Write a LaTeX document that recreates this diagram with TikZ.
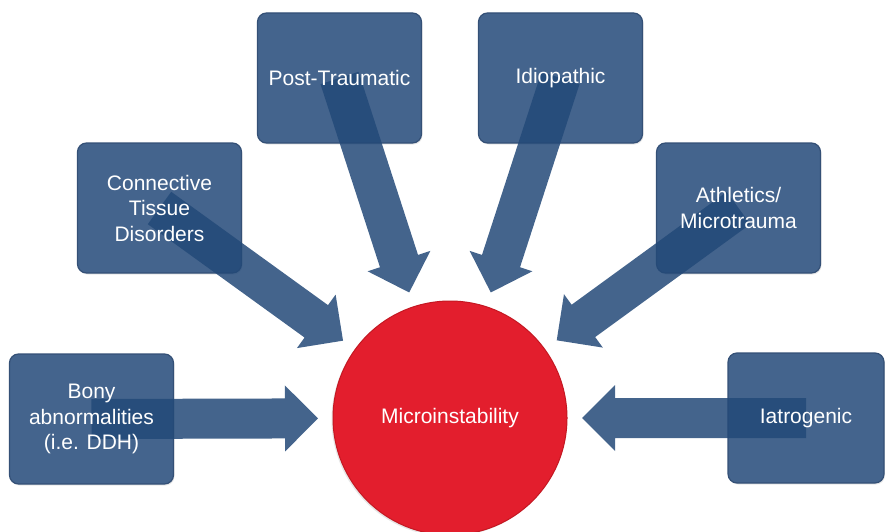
\documentclass[tikz,border=0pt]{standalone}
\usepackage{fontspec}
\setmainfont{Liberation Sans}
\usetikzlibrary{calc,shadows}

\definecolor{boxblue}{RGB}{68,100,141}
\definecolor{boxedge}{RGB}{52,80,118}
\definecolor{arrowblue}{RGB}{35,73,120}
\definecolor{hubred}{RGB}{227,30,45}
\definecolor{hubedge}{RGB}{196,24,34}

\tikzset{
  causebox/.style={rectangle, rounded corners=9pt, minimum width=164pt,
    minimum height=130pt, fill=boxblue, draw=boxedge, line width=1.2pt,
    drop shadow={shadow xshift=1pt, shadow yshift=-1.5pt, opacity=0.18}},
  boxtext/.style={text=white, align=center, inner sep=0pt,
    font=\fontsize{21}{25.5}\selectfont},
  flowfill/.style={fill=arrowblue, fill opacity=0.85},
  hub/.style={circle, minimum size=234pt, inner sep=0pt, fill=hubred,
    draw=hubedge, line width=1pt, text=white,
    font=\fontsize{21}{25.5}\selectfont,
    drop shadow={shadow xshift=-1.5pt, shadow yshift=-1.5pt, opacity=0.2}}
}

% Block arrow from point #1 to tip #2: shaft 40pt wide, head 66pt wide, 33pt long
\newcommand\flowarrow[2]{%
  \coordinate (#2-base) at ($(#2)!33pt!(#1)$);
  \fill[flowfill] ($(#1)!20pt!90:(#2)$) -- ($(#2-base)!20pt!90:(#2)$)
    -- ($(#2-base)!33pt!90:(#2)$) -- (#2) -- ($(#2-base)!33pt!-90:(#2)$)
    -- ($(#2-base)!20pt!-90:(#2)$) -- ($(#1)!20pt!-90:(#2)$) -- cycle;
}

\begin{document}
\begin{tikzpicture}[x=1pt, y=-1pt]
  \useasboundingbox (0,0) rectangle (885,532);
  \clip (0,0) rectangle (885,532);

  % cause boxes
  \node[causebox] (bony) at (91.5,419) {};
  \node[causebox] (ctd)  at (159.5,208) {};
  \node[causebox] (post) at (339.5,78) {};
  \node[causebox] (idio) at (560.5,78) {};
  \node[causebox] (ath)  at (738.5,208) {};
  \node[causebox, minimum width=156pt] (iat) at (806,418) {};

  % central circle
  \node[hub] (mi) at (450,418) {Microinstability};

  % arrow tips, a fixed distance from the circle centre
  \foreach \b in {bony,ctd,post,idio,ath,iat}
    \coordinate (\b-tip) at ($(mi.center)!132pt!(\b.center)$);

  % block arrows
  \flowarrow{bony.center}{bony-tip}
  \flowarrow{ctd.center}{ctd-tip}
  \flowarrow{post.center}{post-tip}
  \flowarrow{idio.center}{idio-tip}
  \flowarrow{ath.center}{ath-tip}
  \flowarrow{iat.center}{iat-tip}

  % box labels
  \node[boxtext] (bony-t) at (bony.center) {Bony\\abnormalities\\(i.e. DDH)};
  \node[boxtext] (ctd-t)  at (ctd.center)  {Connective\\Tissue\\Disorders};
  \node[boxtext] (post-t) at (post.center) {Post-Traumatic};
  \node[boxtext] (idio-t) at (idio.center) {Idiopathic};
  \node[boxtext] (ath-t)  at (ath.center)  {Athletics/\\Microtrauma};
  \node[boxtext] (iat-t)  at (iat.center)  {Iatrogenic};
\end{tikzpicture}
\end{document}
